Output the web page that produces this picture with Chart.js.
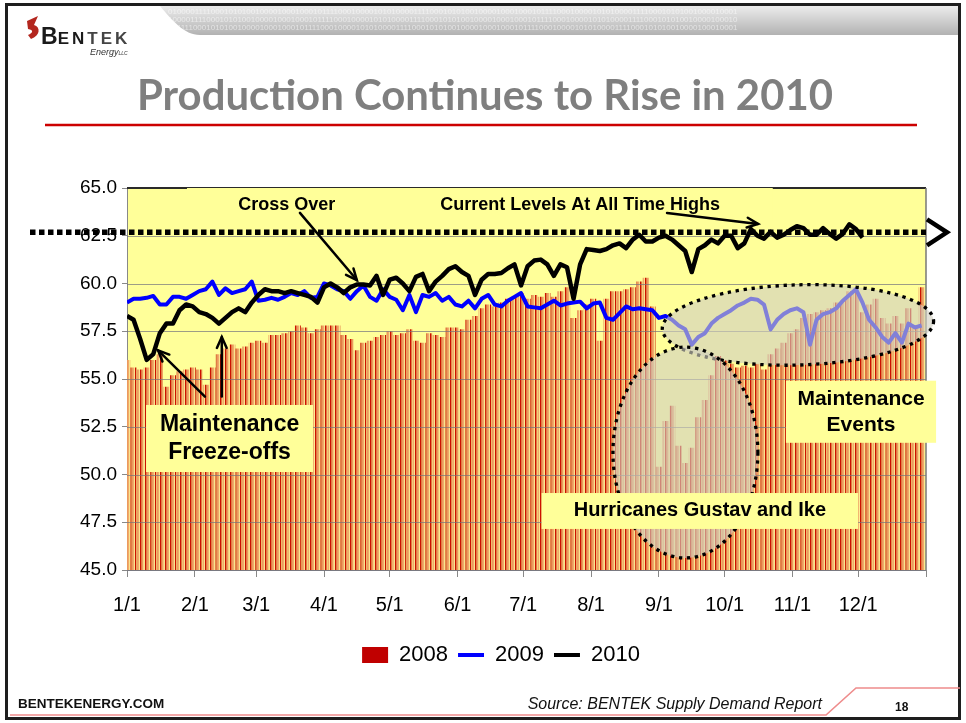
<!DOCTYPE html>
<html lang="en">
<head>
<meta charset="utf-8">
<title>Production Continues to Rise in 2010</title>
<script src="https://cdn.jsdelivr.net/npm/chart.js@4.4.1/dist/chart.umd.min.js"></script>
<style>
  html, body { margin: 0; padding: 0; background: #fff; }
  #slide { position: relative; width: 966px; height: 723px; overflow: hidden; background: #fff; }
  #chart, #deco { position: absolute; left: 0; top: 0; }
  #deco { pointer-events: none; }
</style>
</head>
<body>
<div id="slide">
  <canvas id="chart" width="966" height="723"></canvas>

  <!-- slide frame, header band, logo, title, footer -->
  <svg id="deco" width="966" height="723" xmlns="http://www.w3.org/2000/svg">
    <defs>
      <linearGradient id="band" x1="0" y1="0" x2="0" y2="1">
        <stop offset="0" stop-color="#ececec"/>
        <stop offset="1" stop-color="#b2b2b2"/>
      </linearGradient>
      <clipPath id="bandClip">
        <path d="M160,6 L960,6 L960,35 L200,35 C184,35 172,20 160,6 Z"/>
      </clipPath>
    </defs>
    <path d="M160,6 L960,6 L960,35 L200,35 C184,35 172,20 160,6 Z" fill="url(#band)"/>
    <g clip-path="url(#bandClip)" font-family="Liberation Sans" font-size="8" fill="#ffffff" fill-opacity="0.55">
      <text x="168" y="14">0100001111000101010010000100010001011110001000010101000011110001010100100001000100010111100010000101010000111100010101001000010001</text>
      <text x="168" y="22">1000011110001010100100001000100010111100010000101010000111100010101001000010001000101111000100001010100001111000101010010000100010</text>
      <text x="168" y="30">0011110001010100100001000100010111100010000101010000111100010101001000010001000101111000100001010100001111000101010010000100010001</text>
    </g>
    <rect x="6.5" y="4.5" width="953" height="714" fill="none" stroke="#1e1e1e" stroke-width="3"/>

    <path d="M27,21 L38,16 L34,25 C41,27 40,36 31,39 L28,35 C33,33 34,30 28,29 Z" fill="#b3261e"/>
    <text x="41" y="44" font-family="Liberation Sans" font-weight="700" fill="#1a1a1a">
      <tspan font-size="23">B</tspan><tspan font-size="17" letter-spacing="3">EN</tspan><tspan font-size="17" letter-spacing="3" fill="#444">TEK</tspan>
    </text>
    <text x="90" y="55" font-family="Liberation Sans" font-style="italic" font-size="9" fill="#333">Energy<tspan font-size="5">LLC</tspan></text>

    <text x="485" y="110" text-anchor="middle" font-family="Lato" font-weight="700" font-size="42"
          fill="#7f7f7f" textLength="696" lengthAdjust="spacingAndGlyphs">Production Continues to Rise in 2010</text>
    <line x1="45" y1="125" x2="917" y2="125" stroke="#cc0000" stroke-width="2.5"/>

    <polyline points="10,715 826,715 856,688 960,688" fill="none" stroke="#ee8c8c" stroke-width="1.6"/>
    <text x="18" y="708" font-family="Liberation Sans" font-weight="700" font-size="13.5" fill="#111">BENTEKENERGY.COM</text>
    <text x="822" y="709" text-anchor="end" font-family="Liberation Sans" font-style="italic" font-size="16" fill="#111">Source: BENTEK Supply Demand Report</text>
    <text x="895" y="711" font-family="Liberation Sans" font-weight="700" font-size="12" fill="#111">18</text>
  </svg>
</div>

<script>
// ==================================
// DATA (one value every 3 days from Jan 1)
// ==================================
const sampleStepDays = 3;
const monthStartDays = [0, 31, 59, 90, 120, 151, 181, 212, 243, 273, 304, 334, 365];
const monthLabels = ['1/1', '2/1', '3/1', '4/1', '5/1', '6/1', '7/1', '8/1', '9/1', '10/1', '11/1', '12/1', ''];
const seriesLabels = ['2008', '2009', '2010'];

// 2008 daily production (bars), Bcf/d
const production2008 = [
  56.0, 55.6, 55.5, 55.6, 56.0, 56.3, 54.6, 55.2, 55.4, 55.5,
  55.6, 55.5, 54.7, 55.6, 56.3, 56.6, 56.8, 56.6, 56.7, 56.9,
  57.0, 56.9, 57.3, 57.3, 57.4, 57.5, 57.8, 57.7, 57.4, 57.6,
  57.8, 57.8, 57.8, 57.3, 57.1, 56.5, 56.9, 57.0, 57.2, 57.3,
  57.5, 57.3, 57.4, 57.6, 57.0, 56.9, 57.4, 57.3, 57.2, 57.7,
  57.7, 57.6, 58.1, 58.3, 58.7, 58.9, 58.8, 59.0, 59.2, 59.3,
  59.5, 59.2, 59.4, 59.3, 59.5, 59.3, 59.6, 59.8, 58.2, 58.6,
  58.9, 59.2, 57.0, 59.2, 59.6, 59.6, 59.7, 59.8, 60.1, 60.3,
  58.8, 50.4, 52.8, 53.6, 51.5, 50.6, 51.4, 53.0, 53.9, 55.2,
  56.2, 56.0, 55.8, 55.6, 55.7, 55.6, 55.8, 55.5, 56.3, 56.6,
  56.9, 57.4, 57.6, 58.2, 58.4, 58.5, 58.6, 58.7, 59.0, 59.1,
  59.6, 59.6, 58.5, 58.9, 59.2, 58.2, 57.9, 58.3, 57.9, 58.7,
  57.7, 59.8
];

// 2009 (blue line)
const production2009 = [
  59.0, 59.2, 59.2, 59.25, 59.35, 58.9, 58.9, 59.3, 59.3, 59.2,
  59.4, 59.6, 59.7, 60.1, 59.4, 59.75, 59.5, 59.6, 59.7, 60.1,
  59.1, 59.15, 59.25, 59.15, 59.3, 59.5, 59.4, 59.6, 59.25, 59.3,
  60.0, 59.9, 59.7, 59.6, 59.2, 59.6, 59.9, 59.3, 59.1, 59.7,
  59.3, 59.15, 58.6, 59.4, 58.5, 59.4, 59.3, 59.5, 59.1, 59.3,
  58.9, 58.8, 59.1, 58.7, 59.2, 59.4, 58.9, 58.8, 59.1, 59.3,
  59.5, 58.8, 58.75, 58.7, 58.9, 59.1, 58.85, 58.95, 59.0, 59.05,
  58.7, 58.95, 59.0, 58.2, 58.1, 58.45, 58.8, 58.65, 58.7, 58.65,
  58.6, 58.2, 58.3, 58.1, 57.8, 57.6, 56.8, 57.2, 57.4, 57.9,
  58.2, 58.4, 58.6, 58.85, 59.0, 59.2, 59.15, 58.9, 57.6, 58.1,
  58.4, 58.6, 58.7, 58.5, 56.8, 58.1, 58.4, 58.5, 58.7, 59.1,
  59.4, 59.7, 59.0, 58.1, 57.7, 57.2, 56.9, 57.4, 56.9, 57.9,
  57.7, 57.8
];

// 2010 (black line), data ends early December
const production2010 = [
  58.3, 58.1, 57.1, 56.0, 56.3, 57.4, 57.9, 57.9, 58.6, 58.9,
  58.8, 58.5, 58.4, 58.2, 57.9, 58.2, 58.5, 58.7, 58.5, 59.0,
  59.4, 59.7, 59.6, 59.6, 59.5, 59.6, 59.5, 59.4, 59.3, 59.0,
  59.8, 60.0, 59.8, 59.5, 59.8, 59.95, 59.95, 59.9, 60.4, 59.4,
  60.2, 60.3, 60.0, 59.6, 60.35, 60.5, 59.6, 60.1, 60.4, 60.75,
  60.9, 60.6, 60.4, 59.4, 60.2, 60.5, 60.5, 60.55, 60.8, 61.0,
  59.9, 60.9, 61.2, 61.25, 61.0, 60.4, 61.0, 60.85, 59.2, 61.0,
  61.8, 61.75, 61.7, 61.8, 62.0, 62.1, 61.85, 62.3, 62.55, 62.2,
  62.2, 62.4, 62.5, 62.3, 62.0, 61.7, 60.6, 61.8, 62.0, 62.3,
  62.1, 62.5, 62.5, 61.85, 62.1, 62.85, 62.5, 62.35, 62.7, 62.4,
  62.55, 62.8, 63.0, 62.9, 62.55, 62.55, 62.9, 62.6, 62.35, 62.6,
  63.1, 62.85, 62.4
];

// ==================================
// ANNOTATIONS (chart units: day of year, Bcf/d)
// ==================================
const allTimeHighLevel = 62.68;
const maintenanceEllipse = { day: 306.5, value: 57.83, rDays: 62, rValue: 2.1, tilt: -0.03 };
const hurricaneEllipse = { day: 255.1, value: 51.15, rDays: 33.1, rValue: 5.52, tilt: 0 };

const labelBoxes = [
  { from: [27.4, 65.0], to: [295, 63.3], size: 18, gap: 0, lines: [] },
  { from: [8.7, 53.64], to: [85, 50.13], size: 23, gap: 28, lines: ['Maintenance', 'Freeze-offs'] },
  { from: [189.4, 49.03], to: [334, 47.15], size: 20, gap: 0, lines: ['Hurricanes Gustav and Ike'] },
  { from: [301, 54.91], to: [369.6, 51.66], size: 21, gap: 26, lines: ['Maintenance', 'Events'] }
];
const freeLabels = [
  { at: [73, 64.1], size: 18, text: 'Cross Over' },
  { at: [207, 64.1], size: 18, text: 'Current Levels At All Time Highs' }
];
const arrows = [
  { from: [79, 63.7], to: [105, 60.18] },
  { from: [246.7, 63.69], to: [288.3, 63.12] },
  { from: [35.6, 54.08], to: [14.2, 56.5] },
  { from: [43.3, 54.08], to: [43.3, 57.2] }
];

// --- COLORS ---
const plotBackground = '#ffff99';
const barStripeColors = ['#cc1100', '#e07c44', '#eb9a5e', '#f0aa6a', '#fae48e'];
const legendColors = ['#c00000', '#0000ff', '#000000'];
const FONT = 'Liberation Sans';

// ==================================
// HELPERS
// ==================================
function toPoints(values) {
  return values.map((v, i) => ({ x: i * sampleStepDays, y: v }));
}

function makeStripePattern(ctx) {
  const tile = document.createElement('canvas');
  tile.width = barStripeColors.length;
  tile.height = 1;
  const t = tile.getContext('2d');
  barStripeColors.forEach((c, i) => { t.fillStyle = c; t.fillRect(i, 0, 1, 1); });
  return ctx.createPattern(tile, 'repeat');
}

function drawArrow(ctx, x0, y0, x1, y1) {
  const ang = Math.atan2(y1 - y0, x1 - x0);
  const head = 12, spread = 0.42;
  ctx.beginPath();
  ctx.moveTo(x0, y0);
  ctx.lineTo(x1, y1);
  ctx.stroke();
  ctx.beginPath();
  ctx.moveTo(x1 - head * Math.cos(ang - spread), y1 - head * Math.sin(ang - spread));
  ctx.lineTo(x1, y1);
  ctx.lineTo(x1 - head * Math.cos(ang + spread), y1 - head * Math.sin(ang + spread));
  ctx.stroke();
}

function drawEllipse(chart, e) {
  const { ctx, scales: { x, y } } = chart;
  const cx = x.getPixelForValue(e.day);
  const cy = y.getPixelForValue(e.value);
  const rx = Math.abs(x.getPixelForValue(e.day + e.rDays) - cx);
  const ry = Math.abs(y.getPixelForValue(e.value + e.rValue) - cy);
  ctx.save();
  ctx.beginPath();
  ctx.ellipse(cx, cy, rx, ry, e.tilt, 0, Math.PI * 2);
  ctx.fillStyle = 'rgba(208, 206, 192, 0.62)';
  ctx.fill();
  ctx.setLineDash([3.3, 4.7]);
  ctx.lineWidth = 3.3;
  ctx.strokeStyle = '#000';
  ctx.stroke();
  ctx.restore();
}

// plugin with the slide's overlays (background, ellipses, notes, arrows)
const slideOverlay = {
  id: 'slideOverlay',
  beforeDraw(chart) {
    const { ctx, chartArea: a } = chart;
    ctx.save();
    ctx.fillStyle = plotBackground;
    ctx.fillRect(a.left, a.top, a.right - a.left, a.bottom - a.top);
    ctx.restore();
  },
  afterDatasetDraw(chart, args) {
    if (args.index !== 0) return;
    // gridlines stay visible across the 2008 bars
    const { ctx, chartArea: a, scales: { y } } = chart;
    ctx.save();
    ctx.lineWidth = 1;
    ctx.strokeStyle = 'rgba(115, 115, 125, 0.7)';
    y.ticks.forEach(t => {
      const yy = Math.round(y.getPixelForValue(t.value)) + 0.5;
      ctx.beginPath();
      ctx.moveTo(a.left, yy);
      ctx.lineTo(a.right, yy);
      ctx.stroke();
    });
    ctx.strokeStyle = '#2a2a2a';
    ctx.lineWidth = 2;
    ctx.beginPath();
    ctx.moveTo(a.left, a.top);
    ctx.lineTo(a.right, a.top);
    ctx.stroke();
    ctx.strokeStyle = '#777';
    ctx.lineWidth = 1.5;
    ctx.beginPath();
    ctx.moveTo(a.right, a.top);
    ctx.lineTo(a.right, a.bottom);
    ctx.stroke();
    ctx.restore();
  },
  afterDatasetsDraw(chart) {
    drawEllipse(chart, maintenanceEllipse);
    drawEllipse(chart, hurricaneEllipse);
  },
  afterDraw(chart) {
    const { ctx, chartArea: a, scales: { x, y } } = chart;
    ctx.save();

    // yellow note boxes
    labelBoxes.forEach(b => {
      const x0 = x.getPixelForValue(b.from[0]), y0 = y.getPixelForValue(b.from[1]);
      const x1 = x.getPixelForValue(b.to[0]), y1 = y.getPixelForValue(b.to[1]);
      ctx.fillStyle = plotBackground;
      ctx.fillRect(x0, y0, x1 - x0, y1 - y0);
      ctx.fillStyle = '#000';
      ctx.font = `bold ${b.size}px "${FONT}"`;
      ctx.textAlign = 'center';
      ctx.textBaseline = 'middle';
      const cx = (x0 + x1) / 2, cy = (y0 + y1) / 2;
      b.lines.forEach((line, i) => {
        ctx.fillText(line, cx, cy + (i - (b.lines.length - 1) / 2) * b.gap);
      });
    });

    freeLabels.forEach(l => {
      ctx.fillStyle = '#000';
      ctx.font = `bold ${l.size}px "${FONT}"`;
      ctx.textAlign = 'center';
      ctx.textBaseline = 'middle';
      ctx.fillText(l.text, x.getPixelForValue(l.at[0]), y.getPixelForValue(l.at[1]));
    });

    // dotted all-time-high line with its open arrow head
    const hy = y.getPixelForValue(allTimeHighLevel);
    ctx.strokeStyle = '#000';
    ctx.lineWidth = 5.5;
    ctx.setLineDash([5.5, 3.5]);
    ctx.beginPath();
    ctx.moveTo(30, hy);
    ctx.lineTo(a.right, hy);
    ctx.stroke();
    ctx.setLineDash([]);
    ctx.lineWidth = 4.5;
    ctx.lineJoin = 'miter';
    ctx.beginPath();
    ctx.moveTo(a.right + 1, hy - 13);
    ctx.lineTo(a.right + 21, hy);
    ctx.lineTo(a.right + 1, hy + 13);
    ctx.stroke();

    ctx.lineWidth = 2.5;
    ctx.lineCap = 'round';
    arrows.forEach(r => {
      drawArrow(ctx,
        x.getPixelForValue(r.from[0]), y.getPixelForValue(r.from[1]),
        x.getPixelForValue(r.to[0]), y.getPixelForValue(r.to[1]));
    });
    ctx.restore();
  }
};

// ==================================
// CHART
// ==================================
const canvasEl = document.getElementById('chart');
const barPattern = makeStripePattern(canvasEl.getContext('2d'));

new Chart(canvasEl, {
  data: {
    datasets: [
      {
        type: 'bar',
        label: seriesLabels[0],
        data: toPoints(production2008),
        backgroundColor: barPattern,
        borderWidth: 0,
        barPercentage: 0.94,
        categoryPercentage: 1,
        order: 3
      },
      {
        type: 'line',
        label: seriesLabels[1],
        data: toPoints(production2009),
        borderColor: '#0000ff',
        borderWidth: 4,
        pointRadius: 0,
        tension: 0,
        borderJoinStyle: 'round',
        order: 2
      },
      {
        type: 'line',
        label: seriesLabels[2],
        data: toPoints(production2010),
        borderColor: '#000000',
        borderWidth: 4.5,
        pointRadius: 0,
        tension: 0,
        borderJoinStyle: 'round',
        order: 1
      }
    ]
  },
  options: {
    responsive: false,
    animation: false,
    devicePixelRatio: 1,
    layout: { padding: { top: 188, right: 40, bottom: 47, left: 76 } },
    plugins: {
      tooltip: { enabled: false },
      legend: {
        position: 'bottom',
        labels: {
          font: { family: FONT, size: 22 },
          color: '#000',
          usePointStyle: true,
          pointStyleWidth: 26,
          boxHeight: 16,
          padding: 10,
          generateLabels: chart => chart.data.datasets.map((ds, i) => ({
            text: ds.label,
            fillStyle: legendColors[i],
            strokeStyle: legendColors[i],
            lineWidth: ds.type === 'bar' ? 0 : 4,
            pointStyle: ds.type === 'bar' ? 'rect' : 'line',
            fontColor: '#000',
            hidden: false,
            datasetIndex: i
          }))
        }
      }
    },
    scales: {
      x: {
        type: 'linear',
        offset: false,
        min: monthStartDays[0],
        max: monthStartDays[monthStartDays.length - 1],
        afterBuildTicks: s => { s.ticks = monthStartDays.map(v => ({ value: v })); },
        afterFit: s => { s.height = 64; },
        ticks: {
          autoSkip: false,
          maxRotation: 0,
          padding: 16,
          color: '#000',
          font: { family: FONT, size: 20 },
          callback: (v, i) => monthLabels[i]
        },
        grid: { offset: false, drawOnChartArea: false, tickLength: 7, color: '#888' },
        border: { color: '#888' }
      },
      y: {
        min: 45,
        max: 65,
        afterFit: s => { s.width = 51; },
        ticks: {
          stepSize: 2.5,
          padding: 5,
          color: '#000',
          font: { family: FONT, size: 19 },
          callback: v => v.toFixed(1)
        },
        grid: { drawOnChartArea: false, tickLength: 5, color: '#888' },
        border: { color: '#888' }
      }
    }
  },
  plugins: [slideOverlay]
});
</script>
</body>
</html>
